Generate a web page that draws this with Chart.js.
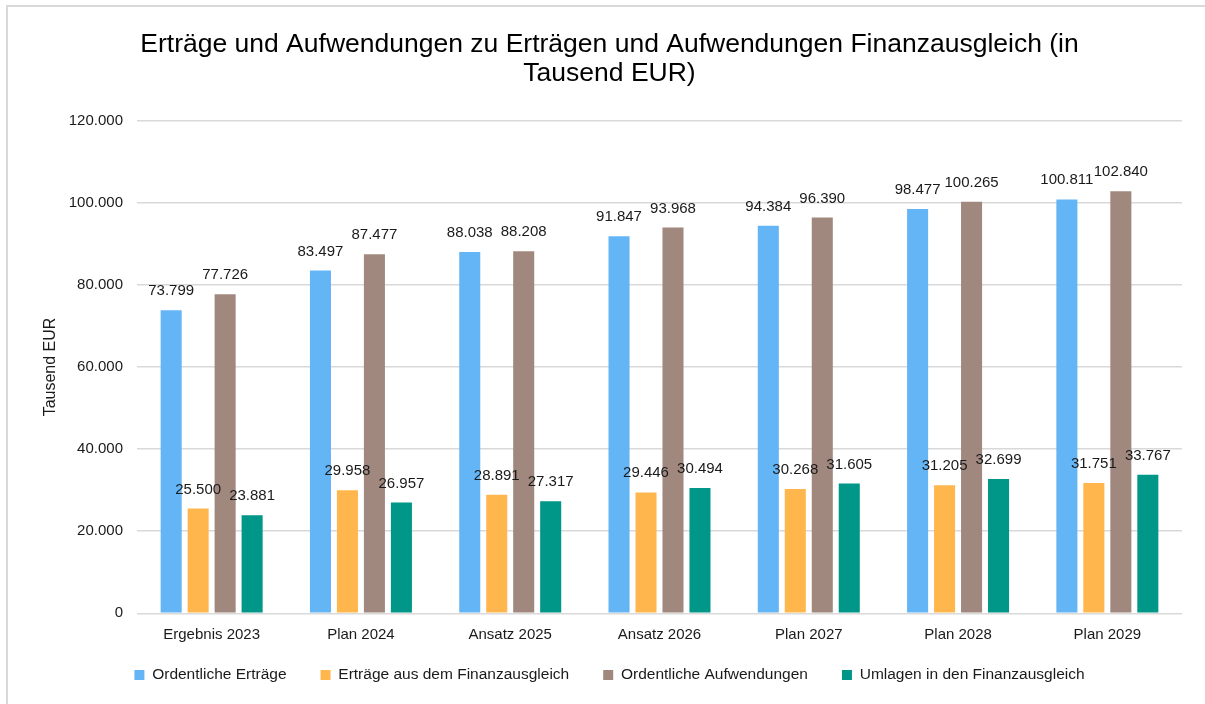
<!DOCTYPE html>
<html>
<head>
<meta charset="utf-8">
<script src="https://cdn.jsdelivr.net/npm/chart.js@4.4.1/dist/chart.umd.min.js"></script>
<style>
html,body{margin:0;padding:0;background:#fff;}
#wrap{position:absolute;left:0;top:0;width:1205px;height:704px;}
</style>
</head>
<body>
<div id="wrap"><canvas id="c" width="1205" height="704"></canvas></div>
<script>
const categories = ['Ergebnis 2023', 'Plan 2024', 'Ansatz 2025', 'Ansatz 2026', 'Plan 2027', 'Plan 2028', 'Plan 2029'];
const ordentlicheErtraege = [73799, 83497, 88038, 91847, 94384, 98477, 100811];
const ertraegeFinanzausgleich = [25500, 29958, 28891, 29446, 30268, 31205, 31751];
const ordentlicheAufwendungen = [77726, 87477, 88208, 93968, 96390, 100265, 102840];
const umlagenFinanzausgleich = [23881, 26957, 27317, 30494, 31605, 32699, 33767];
const seriesNames = ['Ordentliche Erträge', 'Erträge aus dem Finanzausgleich', 'Ordentliche Aufwendungen', 'Umlagen in den Finanzausgleich'];
const seriesColors = ['#64B5F6', '#FFB74D', '#A1887F', '#009688'];
const titleLines = ['Erträge und Aufwendungen zu Erträgen und Aufwendungen Finanzausgleich (in', 'Tausend EUR)'];
const yAxisTitle = 'Tausend EUR';
const yMin = 0, yMax = 120000, yStep = 20000;

const FONT = "'Liberation Sans', Arial, sans-serif";
const fmt = v => String(Math.round(v)).replace(/\B(?=(\d{3})+(?!\d))/g, '.');

const seriesData = [ordentlicheErtraege, ertraegeFinanzausgleich, ordentlicheAufwendungen, umlagenFinanzausgleich];

const frame = {
  id: 'frame',
  beforeDraw(chart) {
    const ctx = chart.ctx;
    ctx.save();
    ctx.fillStyle = '#fff';
    ctx.fillRect(0, 0, chart.width, chart.height);
    ctx.fillStyle = '#D9D9D9';
    ctx.fillRect(6, 5, 2, chart.height - 5);
    ctx.fillRect(6, 5, chart.width - 6, 2);
    ctx.restore();
  }
};

const dataLabels = {
  id: 'dataLabels',
  afterDatasetsDraw(chart) {
    const ctx = chart.ctx;
    ctx.save();
    ctx.font = '15px ' + FONT;
    ctx.fillStyle = '#1a1a1a';
    ctx.textAlign = 'center';
    ctx.textBaseline = 'alphabetic';
    chart.data.datasets.forEach((ds, i) => {
      const meta = chart.getDatasetMeta(i);
      meta.data.forEach((bar, j) => {
        ctx.fillText(fmt(ds.data[j]), bar.x, bar.y - 15);
      });
    });
    ctx.restore();
  }
};

new Chart(document.getElementById('c'), {
  type: 'bar',
  data: {
    labels: categories,
    datasets: seriesNames.map((name, i) => ({
      label: name,
      data: seriesData[i],
      backgroundColor: seriesColors[i],
      borderWidth: 0,
      categoryPercentage: 0.723,
      barPercentage: 0.78
    }))
  },
  options: {
    responsive: false,
    devicePixelRatio: 1,
    animation: false,
    layout: { padding: { left: 20, right: 6, top: 0, bottom: 11.25 } },
    plugins: {
      title: {
        display: true,
        text: titleLines,
        color: '#000',
        font: { family: FONT, size: 26.5, weight: 'normal', lineHeight: 1.07 },
        padding: { top: 31, bottom: 33 }
      },
      legend: {
        position: 'bottom',
        labels: {
          boxWidth: 10,
          boxHeight: 10,
          padding: 34,
          color: '#1a1a1a',
          font: { family: FONT, size: 15.5 }
        }
      },
      tooltip: { enabled: false }
    },
    scales: {
      x: {
        grid: { display: false },
        border: { display: false },
        ticks: { color: '#1a1a1a', font: { family: FONT, size: 15 }, padding: 5 },
        afterFit(s) {
          s.height = 20;
          s._computeLabelArea = function () { return undefined; };
        }
      },
      y: {
        min: yMin,
        max: yMax,
        ticks: {
          stepSize: yStep,
          color: '#1a1a1a',
          font: { family: FONT, size: 15 },
          padding: 14,
          callback: v => fmt(v)
        },
        grid: { color: '#D9D9D9', lineWidth: 1.5, drawTicks: false },
        border: { display: false },
        title: {
          display: true,
          text: yAxisTitle,
          color: '#1a1a1a',
          font: { family: FONT, size: 16 },
          padding: { top: 21, bottom: 0 }
        },
        afterFit(s) { s.width = 117; }
      },
      yR: {
        position: 'right',
        display: true,
        min: 0,
        max: 1,
        grid: { display: false },
        border: { display: false },
        ticks: { display: false },
        afterFit(s) { s.width = 17; }
      }
    }
  },
  plugins: [frame, dataLabels]
});
</script>
</body>
</html>
